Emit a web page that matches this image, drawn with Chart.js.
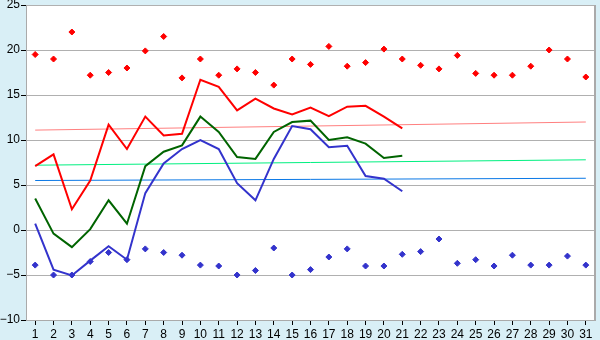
<!DOCTYPE html>
<html>
<head>
<meta charset="utf-8">
<title>Daily temperatures</title>
<script src="https://cdn.jsdelivr.net/npm/chart.js@4/dist/chart.umd.min.js"></script>
<style>
  html, body { margin: 0; padding: 0; background: #d9eff6; }
  #chart { display: block; }
</style>
</head>
<body>
<canvas id="chart" width="600" height="340"></canvas>
<script>
const days = ["1", "2", "3", "4", "5", "6", "7", "8", "9", "10", "11", "12", "13", "14", "15", "16",
  "17", "18", "19", "20", "21", "22", "23", "24", "25", "26", "27", "28", "29", "30", "31"];

const yTickLabels = ["\u221210", "\u22125", "0", "5", "10", "15", "20", "25"];

// measured this month (days 1-21)
const maxTemps = [7.1, 8.4, 2.3, 5.5, 11.7, 9.0, 12.6, 10.5, 10.7, 16.7, 15.9, 13.3, 14.6, 13.5,
  12.85, 13.6, 12.65, 13.7, 13.8, 12.6, 11.3];
const meanTemps = [3.5, -0.4, -1.9, 0.1, 3.3, 0.7, 7.1, 8.7, 9.4, 12.6, 10.9, 8.1, 7.9, 10.9,
  12.0, 12.15, 10.0, 10.3, 9.6, 8.0, 8.25];
const minTemps = [0.7, -4.4, -5.05, -3.4, -1.8, -3.3, 4.1, 7.4, 9.0, 10.0, 9.0, 5.2, 3.3, 7.9,
  11.55, 11.2, 9.2, 9.35, 6.0, 5.7, 4.3];

// record values for each day
const recordHigh = [19.5, 19.0, 22.0, 17.2, 17.5, 18.0, 19.9, 21.5, 16.9, 19.0, 17.2, 17.9, 17.5, 16.1,
  19.0, 18.4, 20.4, 18.2, 18.6, 20.1, 19.0, 18.3, 17.9, 19.4, 17.4, 17.2, 17.2, 18.2, 20.0, 19.0, 17.0];
const recordLow = [-3.9, -5.0, -5.0, -3.5, -2.5, -3.3, -2.1, -2.5, -2.8, -3.9, -4.0, -5.0, -4.5, -2.0,
  -5.0, -4.4, -3.0, -2.1, -4.0, -4.0, -2.7, -2.4, -1.0, -3.7, -3.3, -4.0, -2.8, -3.9, -3.9, -2.9, -3.9];

// long-term normals, first and last day of the month
const normalMax = [11.1, 12.0];
const normalMean = [7.2, 7.8];
const normalMin = [5.5, 5.75];

const tickFont = { family: "'Liberation Sans Narrow', 'Liberation Sans', sans-serif", size: 12 };

function endpoints(pair) {
  return days.map((day, index) => {
    if (index === 0) {
      return pair[0];
    }
    if (index === days.length - 1) {
      return pair[1];
    }
    return null;
  });
}

function lineSet(label, data, color, width, order) {
  return {
    label,
    data,
    borderColor: color,
    backgroundColor: color,
    borderWidth: width,
    pointRadius: 0,
    fill: false,
    tension: 0,
    spanGaps: true,
    order
  };
}

function pointSet(label, data, color) {
  return {
    label,
    data,
    showLine: false,
    borderColor: color,
    backgroundColor: color,
    pointStyle: "rectRot",
    pointRadius: 3,
    pointBorderWidth: 1,
    order: 0
  };
}

const plotFrame = {
  id: "plotFrame",
  beforeDraw(chart) {
    const { ctx, chartArea } = chart;
    ctx.save();
    ctx.fillStyle = "#ffffff";
    ctx.fillRect(chartArea.left, chartArea.top, chartArea.right - chartArea.left, chartArea.bottom - chartArea.top);
    ctx.restore();
  },
  afterDraw(chart) {
    const { ctx, chartArea } = chart;
    ctx.save();
    ctx.strokeStyle = "#aaaaaa";
    ctx.lineWidth = 2;
    ctx.beginPath();
    ctx.moveTo(chartArea.right, chartArea.top);
    ctx.lineTo(chartArea.right, chartArea.bottom);
    ctx.stroke();
    ctx.restore();
  }
};

new Chart(document.getElementById("chart").getContext("2d"), {
  type: "line",
  data: {
    labels: days,
    datasets: [
      lineSet("Normal max", endpoints(normalMax), "#ff8080", 1, 3),
      lineSet("Normal mean", endpoints(normalMean), "#00f080", 1, 3),
      lineSet("Normal min", endpoints(normalMin), "#0a78e6", 1, 3),
      lineSet("Max", maxTemps, "#ff0000", 2, 1),
      lineSet("Mean", meanTemps, "#006400", 2, 1),
      lineSet("Min", minTemps, "#3333cc", 2, 1),
      pointSet("Record high", recordHigh, "#ff0000"),
      pointSet("Record low", recordLow, "#3333cc")
    ]
  },
  options: {
    responsive: false,
    animation: false,
    layout: { padding: { top: 5, right: 5, left: 0, bottom: 0 } },
    plugins: {
      legend: { display: false },
      tooltip: { enabled: false }
    },
    scales: {
      x: {
        offset: true,
        grid: {
          offset: false,
          drawOnChartArea: false,
          drawTicks: true,
          tickLength: 5,
          tickColor: "#000000"
        },
        border: { color: "#aaaaaa", width: 1 },
        ticks: {
          color: "#000000",
          font: tickFont,
          padding: 2,
          maxRotation: 0,
          autoSkip: false
        },
        afterFit(scale) {
          scale.height = 20;
          scale.paddingLeft = 0;
          scale.paddingRight = 0;
        }
      },
      y: {
        min: -10,
        max: 25,
        grid: {
          color: "#b0b0b0",
          drawTicks: true,
          tickLength: 5,
          tickColor: "#000000"
        },
        border: { color: "#aaaaaa", width: 1 },
        ticks: {
          stepSize: 5,
          color: "#000000",
          font: tickFont,
          padding: 1,
          callback: (value, index) => yTickLabels[index]
        },
        afterFit(scale) {
          scale.width = 26;
          scale.paddingTop = 0;
          scale.paddingBottom = 0;
        }
      }
    }
  },
  plugins: [plotFrame]
});
</script>
</body>
</html>
